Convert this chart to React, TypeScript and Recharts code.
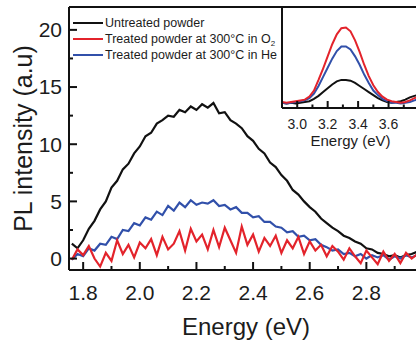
import React from "react";
import { LineChart, Line, XAxis, YAxis, ReferenceLine, Legend, Label } from "recharts";

const energy = [
  1.76, 1.78, 1.8, 1.82, 1.84, 1.86, 1.88, 1.9, 1.92, 1.94, 1.96, 1.98, 2.0, 2.02, 2.04, 2.06,
  2.08, 2.1, 2.12, 2.14, 2.16, 2.18, 2.2, 2.22, 2.24, 2.26, 2.28, 2.3, 2.32, 2.34, 2.36, 2.38,
  2.4, 2.42, 2.44, 2.46, 2.48, 2.5, 2.52, 2.54, 2.56, 2.58, 2.6, 2.62, 2.64, 2.66, 2.68, 2.7,
  2.72, 2.74, 2.76, 2.78, 2.8, 2.82, 2.84, 2.86, 2.88, 2.9, 2.92, 2.94, 2.96, 2.98, 3.0,
];
const untreated = [
  1.3, 0.9, 1.6, 2.6, 3.3, 4.3, 5.0, 6.2, 6.8, 7.8, 8.3, 9.2, 9.8, 10.7, 11.0, 11.8, 12.1, 12.5,
  12.4, 13.0, 12.8, 13.3, 13.0, 13.5, 13.2, 13.6, 12.7, 12.8, 12.1, 11.8, 11.4, 10.7, 10.3, 9.6,
  9.2, 8.4, 8.0, 7.3, 6.8, 6.0, 5.6, 5.0, 4.5, 4.1, 3.5, 3.1, 2.7, 2.4, 2.0, 1.8, 1.5, 1.3, 0.9,
  0.8, 0.5, 0.4, 0.2, 0.3, 0.1, 0.3, 0.4, 0.6, 0.7,
];
const treatedO2 = [
  -0.1, 0.8, 0.3, 1.1, 0.0, -0.7, 0.5, -0.2, 1.6, 0.4, 1.2, 0.1, 1.4, 0.9, 1.7, 0.3, 1.9, 0.8,
  1.3, 2.4, 0.7, 2.6, 1.5, 2.1, 0.8, 2.5, 1.0, 2.7, 1.6, 0.5, 2.8, 1.2, 2.1, 0.6, 1.8, 1.1, 2.0,
  0.5, 1.6, 0.9, 1.9, 0.4, 1.5, 0.7, 1.2, 0.2, 1.1, 0.6, -0.1, 0.9, 0.2, -0.4, 0.7, 0.1, -0.5,
  0.6, -0.2, 0.4, -0.4, 0.5, 0.0, 0.4, -0.1,
];
const treatedHe = [
  -0.1, 0.4, 0.2, 0.9, 0.7, 1.3, 1.2, 1.9, 1.7, 2.5, 2.4, 3.1, 2.9, 3.6, 3.4, 4.1, 3.8, 4.6, 4.2,
  4.9, 4.5, 5.1, 4.7, 4.9, 4.8, 5.1, 4.6, 4.7, 4.3, 4.5, 4.0, 4.0, 3.6, 3.7, 3.2, 3.2, 2.8, 2.7,
  2.3, 2.4, 1.9, 2.0, 1.6, 1.7, 1.2, 1.0, 0.7, 0.8, 0.4, 0.5, 0.2, 0.4, 0.0, 0.3, 0.1, 0.3, -0.1,
  0.2, 0.0, 0.3, 0.1, 0.3, 0.2,
];

// inset (UV band)
const insetEnergy = [
  2.9, 2.93, 2.96, 2.99, 3.02, 3.05, 3.08, 3.11, 3.14, 3.17, 3.2, 3.23, 3.26, 3.29, 3.32, 3.35,
  3.38, 3.41, 3.44, 3.47, 3.5, 3.53, 3.56, 3.59, 3.62, 3.65, 3.68, 3.71, 3.74, 3.77, 3.8,
];
const insetUntreated = [
  0.0, -0.1, 0.0, -0.1, 0.0, 0.1, 0.2, 0.5, 0.9, 1.4, 1.9, 2.4, 2.8, 3.0, 3.0, 2.9, 2.6, 2.2,
  1.8, 1.4, 1.0, 0.6, 0.3, 0.1, 0.0, 0.1, 0.2, 0.4, 0.7, 0.9, 1.0,
];
const insetO2 = [
  0.1, 0.0, 0.1, 0.2, 0.3, 0.4, 0.8, 1.6, 3.0, 4.5, 6.1, 7.7, 9.0, 9.8, 9.9, 9.4, 8.2, 6.7, 5.0,
  3.5, 2.3, 1.4, 0.8, 0.4, 0.2, 0.1, 0.0, 0.1, 0.3, 0.6, 0.8,
];
const insetHe = [
  0.0, -0.1, 0.0, 0.1, 0.2, 0.3, 0.6, 1.2, 2.2, 3.4, 4.6, 5.8, 6.8, 7.4, 7.4, 7.0, 6.1, 5.0, 3.7,
  2.6, 1.6, 1.0, 0.5, 0.2, 0.0, 0.0, -0.1, 0.0, 0.1, 0.3, 0.5,
];

const xTicks = [1.8, 1.9, 2.0, 2.1, 2.2, 2.3, 2.4, 2.5, 2.6, 2.7, 2.8, 2.9, 3.0];
const yTicks = [0, 2.5, 5, 7.5, 10, 12.5, 15, 17.5, 20];
const insetTicks = [3.0, 3.1, 3.2, 3.3, 3.4, 3.5, 3.6, 3.7];
const legendOrder = ["Untreated powder", "Treated powder at 300°C in O2", "Treated powder at 300°C in He"];

const FONT = '"Liberation Sans", Arial, sans-serif';
const INK = "#1c1c1c";
const BLACK = "#111111";
const RED = "#e3232b";
const BLUE = "#3150aa";

const rows = energy.map((e, i) => ({
  energy: e,
  untreated: untreated[i],
  o2: treatedO2[i],
  he: treatedHe[i],
}));

const insetRows = insetEnergy.map((e, i) => ({
  energy: e,
  untreated: insetUntreated[i],
  o2: insetO2[i],
  he: insetHe[i],
}));

// inward ticks, label only on every second (major) one
const energyTick = (len: number, fontSize: number, labelGap: number, maxLabel: number) =>
  function EnergyTick(props: any) {
    const { x, y, payload } = props;
    const v = payload.value as number;
    const major = Math.round(v * 10) % 2 === 0;
    return (
      <g>
        <line x1={x} x2={x} y1={y} y2={y - (major ? len : len / 2)} stroke={BLACK} strokeWidth={2} />
        {major && v <= maxLabel && (
          <text x={x} y={y + labelGap} dy="0.35em" textAnchor="middle" fontSize={fontSize} fontFamily={FONT} fill={INK}>
            {v.toFixed(1)}
          </text>
        )}
      </g>
    );
  };

function IntensityTick(props: any) {
  const { x, y, payload } = props;
  const v = payload.value as number;
  const major = v % 5 === 0;
  return (
    <g>
      <line x1={x} x2={x + (major ? 8 : 4)} y1={y} y2={y} stroke={BLACK} strokeWidth={2} />
      {major && (
        <text x={x - 7} y={y} dy="0.35em" textAnchor="end" fontSize={21} fontFamily={FONT} fill={INK}>
          {v}
        </text>
      )}
    </g>
  );
}

function renderLegend(props: any) {
  const items = [...(props.payload || [])].sort(
    (a: any, b: any) => legendOrder.indexOf(String(a.value)) - legendOrder.indexOf(String(b.value))
  );
  return (
    <div style={{ fontFamily: FONT, fontSize: 12.5, color: INK, lineHeight: 1 }}>
      {items.map((entry: any) => {
        const name = String(entry.value);
        const sub = name.endsWith("O2");
        return (
          <div key={name} style={{ display: "flex", alignItems: "center", height: 16 }}>
            <span style={{ display: "inline-block", width: 30, height: 2.5, background: entry.color, marginRight: 2 }} />
            <span>
              {sub ? name.slice(0, -1) : name}
              {sub && <span style={{ fontSize: 8, position: "relative", top: 3 }}>2</span>}
            </span>
          </div>
        );
      })}
    </div>
  );
}

export default function App() {
  return (
    <div style={{ position: "absolute", left: 0, top: 0, width: 416, height: 340, overflow: "hidden", background: "#fff", fontFamily: FONT }}>
      <LineChart width={430} height={340} data={rows} margin={{ top: 7, right: 7, left: 68, bottom: 69 }}>
        <XAxis
          dataKey="energy"
          type="number"
          domain={[1.75, 3.0]}
          allowDataOverflow
          ticks={xTicks}
          interval={0}
          height={1}
          tickSize={0}
          tickMargin={0}
          tick={energyTick(8, 21, 23, 2.85)}
          axisLine={{ stroke: BLACK, strokeWidth: 2 }}
        >
          <Label
            content={(p: any) => (
              <text x={p.viewBox.x + p.viewBox.width / 2} y={p.viewBox.y + 57} dy="0.35em" textAnchor="middle" fontSize={24} fontFamily={FONT} fill={INK}>
                Energy (eV)
              </text>
            )}
          />
        </XAxis>
        <YAxis
          type="number"
          domain={[-1, 22]}
          allowDataOverflow
          ticks={yTicks}
          interval={0}
          width={1}
          tickSize={0}
          tickMargin={0}
          tick={IntensityTick}
          axisLine={{ stroke: BLACK, strokeWidth: 2 }}
        >
          <Label
            content={(p: any) => {
              const cx = p.viewBox.x - 45;
              const cy = p.viewBox.y + p.viewBox.height / 2;
              return (
                <text x={cx} y={cy} dy="0.35em" textAnchor="middle" transform={`rotate(-90 ${cx} ${cy})`} fontSize={25} fontFamily={FONT} fill={INK}>
                  PL intensity (a.u)
                </text>
              );
            }}
          />
        </YAxis>
        <ReferenceLine y={22} stroke={BLACK} strokeWidth={2} />
        <Legend
          layout="vertical"
          align="center"
          verticalAlign="middle"
          content={renderLegend}
          wrapperStyle={{ left: 73, top: 15, width: "auto" }}
        />
        <Line dataKey="untreated" name="Untreated powder" stroke={BLACK} strokeWidth={2.2} dot={false} isAnimationActive={false} />
        <Line dataKey="he" name="Treated powder at 300°C in He" stroke={BLUE} strokeWidth={2.2} dot={false} isAnimationActive={false} />
        <Line dataKey="o2" name="Treated powder at 300°C in O2" stroke={RED} strokeWidth={2.2} dot={false} isAnimationActive={false} />
      </LineChart>

      <div style={{ position: "absolute", left: 281, top: 7, width: 140, height: 150, background: "#fff" }}>
        <LineChart width={138} height={145} data={insetRows} margin={{ top: 0, right: 0, left: 0, bottom: 43 }}>
          <XAxis
            dataKey="energy"
            type="number"
            domain={[2.9, 3.8]}
            allowDataOverflow
            ticks={insetTicks}
            interval={0}
            height={1}
            tickSize={0}
            tickMargin={0}
            tick={energyTick(7, 14, 16, 3.7)}
            axisLine={{ stroke: BLACK, strokeWidth: 2 }}
          >
            <Label
              content={(p: any) => (
                <text x={p.viewBox.x + p.viewBox.width / 2} y={p.viewBox.y + 33} dy="0.35em" textAnchor="middle" fontSize={15} fontFamily={FONT} fill={INK}>
                  Energy (eV)
                </text>
              )}
            />
          </XAxis>
          <YAxis type="number" domain={[-0.7, 12.6]} allowDataOverflow width={1} tick={false} tickLine={false} axisLine={{ stroke: BLACK, strokeWidth: 2 }} />
          <ReferenceLine y={12.6} stroke={BLACK} strokeWidth={2} />
          <Line dataKey="untreated" stroke={BLACK} strokeWidth={2} dot={false} isAnimationActive={false} />
          <Line dataKey="he" stroke={BLUE} strokeWidth={2} dot={false} isAnimationActive={false} />
          <Line dataKey="o2" stroke={RED} strokeWidth={2} dot={false} isAnimationActive={false} />
        </LineChart>
      </div>
    </div>
  );
}
